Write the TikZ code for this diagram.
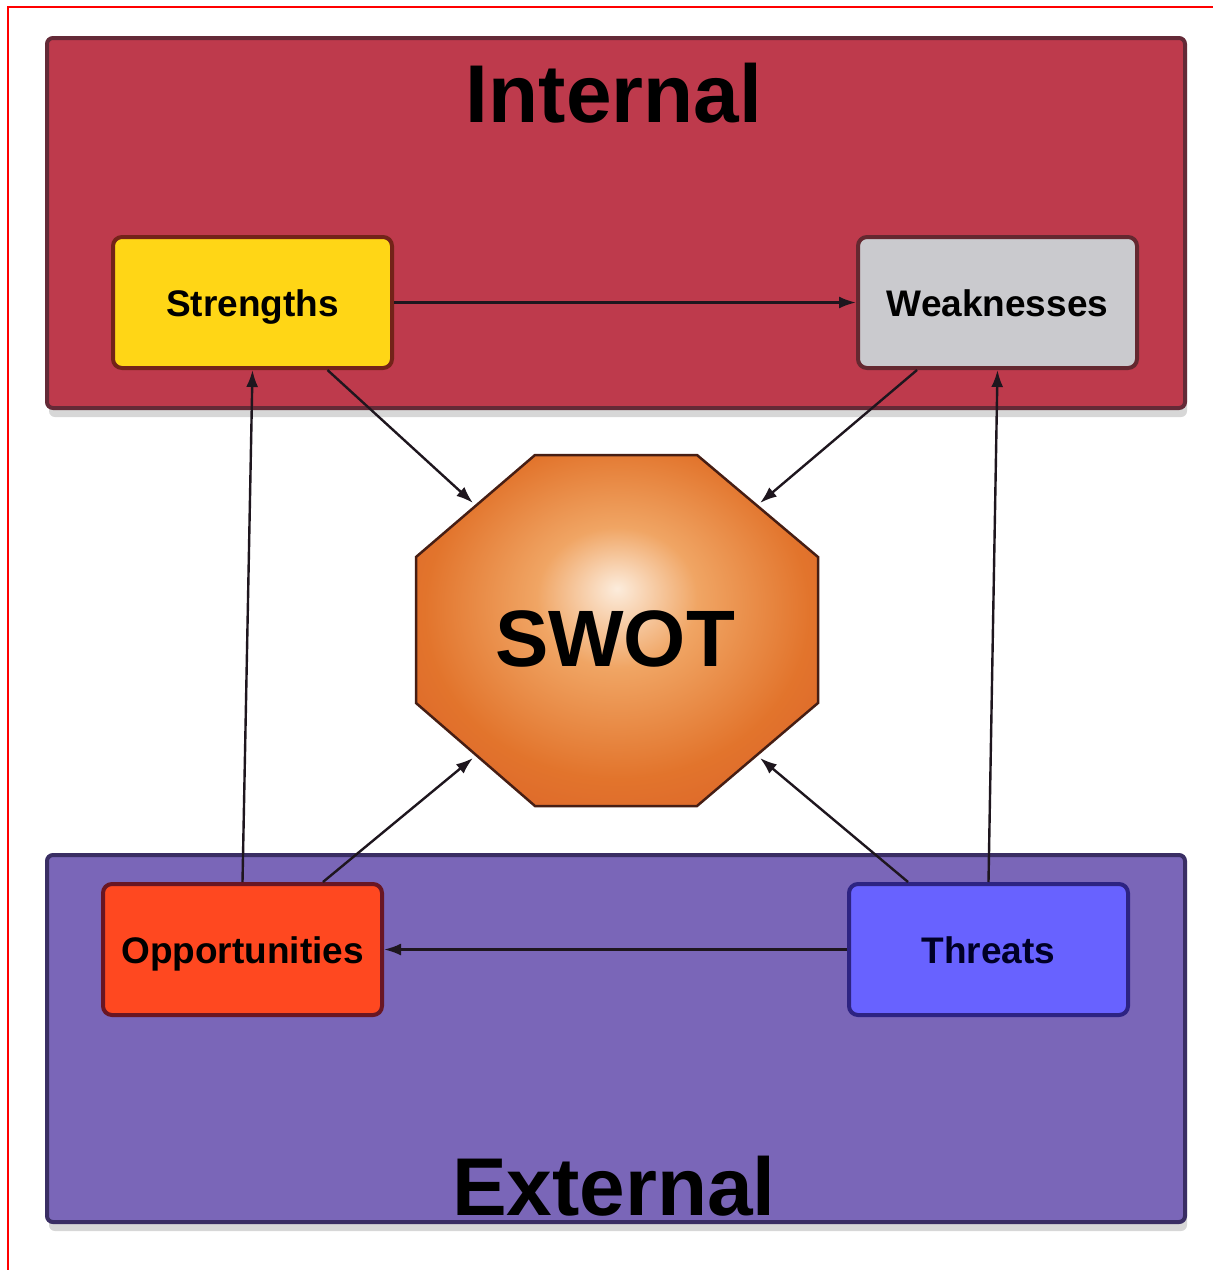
\documentclass[tikz,border=0pt]{standalone}
\usepackage{fontspec}
\setmainfont{Liberation Sans}
\usetikzlibrary{positioning,arrows.meta,shadows}

\definecolor{internalred}{RGB}{190,58,76}
\definecolor{internaledge}{RGB}{100,42,55}
\definecolor{externalpurple}{RGB}{122,102,184}
\definecolor{externaledge}{RGB}{58,46,100}
\definecolor{strengthyellow}{RGB}{255,214,22}
\definecolor{strengthedge}{RGB}{115,35,25}
\definecolor{weakgray}{RGB}{202,202,206}
\definecolor{weakedge}{RGB}{100,40,48}
\definecolor{opporange}{RGB}{255,72,32}
\definecolor{oppedge}{RGB}{105,22,35}
\definecolor{threatblue}{RGB}{104,98,255}
\definecolor{threatedge}{RGB}{45,35,130}
\definecolor{swotcore}{RGB}{252,236,220}
\definecolor{swotmid}{RGB}{240,165,100}
\definecolor{swotorange}{RGB}{226,116,44}
\definecolor{swotedge}{RGB}{212,78,40}
\definecolor{swotline}{RGB}{70,30,20}
\definecolor{arrowink}{RGB}{30,22,30}

\pgfdeclareradialshading{swotglow}{\pgfpoint{0bp}{6bp}}{%
  color(0bp)=(swotcore); color(10bp)=(swotmid); color(24bp)=(swotorange); color(46bp)=(swotedge)}

\tikzset{
  zone/.style={draw, line width=4pt, rounded corners=6pt, minimum width=1138pt,
    drop shadow={shadow xshift=2pt, shadow yshift=-9pt, opacity=0.22, fill=black!70}},
  swotbox/.style={draw, line width=4pt, rounded corners=9pt, minimum width=279pt,
    minimum height=131pt, text height=27pt, text depth=0pt,
    font=\fontsize{37}{40}\selectfont\bfseries},
  title/.style={anchor=base, font=\fontsize{82}{90}\selectfont\bfseries},
  link/.style={-{Latex[length=17pt,width=12pt]}, line width=2.4pt, draw=arrowink},
}

\begin{document}
\begin{tikzpicture}[x=1pt, y=-1pt]
  \useasboundingbox[fill=white] (0,0) rectangle (1213,1270);
  \draw[red, line width=2pt] (8,1270) -- (8,7) -- (1213,7);

  % the two zones
  \node[zone, fill=internalred, draw=internaledge, minimum height=370pt] (internal) at (616,223) {};
  \node[zone, fill=externalpurple, draw=externaledge, minimum height=367pt] (external) at (616,1038.5) {};
  \node[title] (internaltitle) at (614,122) {Internal};
  \node[title] (externaltitle) at (614,1215) {External};

  % the four boxes
  \node[swotbox, fill=strengthyellow, draw=strengthedge] (strengths) at (252.5,302.5) {Strengths};
  \node[swotbox, fill=weakgray, draw=weakedge, right=462pt of strengths] (weaknesses) {Weaknesses};
  \node[swotbox, fill=opporange, draw=oppedge] (opportunities) at (242.5,949.5) {Opportunities};
  \node[swotbox, fill=threatblue, draw=threatedge, text=black!85!blue, right=463pt of opportunities] (threats) {Threats};

  % octagon in the middle
  \shadedraw[shading=swotglow, draw=swotline, line width=2.5pt]
    (535,455) -- (697,455) -- (818,557) -- (818,703) -- (697,806) -- (535,806) -- (416,703) -- (416,557) -- cycle;
  \node[font=\fontsize{80}{88}\selectfont\bfseries] (swot) at (615,639) {SWOT};
  \coordinate (swotul) at (473,503);
  \coordinate (swotur) at (760,503);
  \coordinate (swotll) at (473,758);
  \coordinate (swotlr) at (760,758);

  \draw[link] (strengths) -- (weaknesses);
  \draw[link] (threats) -- (opportunities);
  \draw[link] (opportunities.north) -- (strengths.south);
  \draw[link] (threats.north) -- (weaknesses.south);
  \draw[link] (strengths.-42) -- (swotul);
  \draw[link] (weaknesses.220) -- (swotur);
  \draw[link] (opportunities.40) -- (swotll);
  \draw[link] (threats.140) -- (swotlr);
\end{tikzpicture}
\end{document}
